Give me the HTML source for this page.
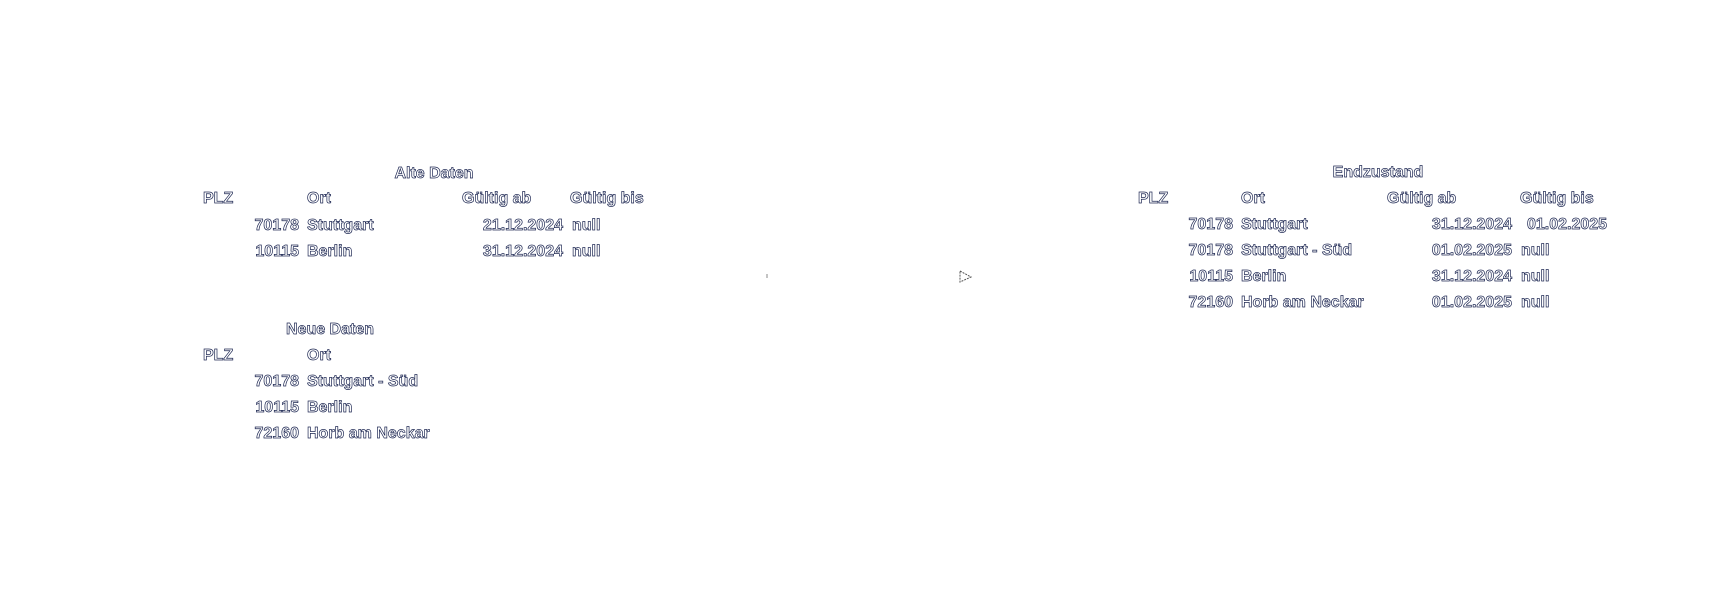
<!DOCTYPE html>
<html><head><meta charset="utf-8"><style>
html,body{margin:0;padding:0;background:#fff;width:1717px;height:608px;overflow:hidden;position:relative}
.t{position:absolute;font-family:"Liberation Sans",sans-serif;font-size:16px;font-weight:bold;line-height:16px;color:#fff;-webkit-text-stroke:0.7px #1a2450;white-space:nowrap}
.r{text-align:right}
.c{text-align:center}
</style></head><body>
<div class="t c" style="left:334px;width:200px;top:166px">Alte Daten</div>
<div class="t" style="left:203px;top:191px">PLZ</div>
<div class="t" style="left:307px;top:191px">Ort</div>
<div class="t" style="left:462px;top:191px">Gültig ab</div>
<div class="t" style="left:570px;top:191px">Gültig bis</div>
<div class="t r" style="left:199px;width:100px;top:218px">70178</div>
<div class="t" style="left:307px;top:218px">Stuttgart</div>
<div class="t r" style="left:443px;width:120px;top:218px">21.12.2024</div>
<div class="t" style="left:572px;top:218px">null</div>
<div class="t r" style="left:199px;width:100px;top:244px">10115</div>
<div class="t" style="left:307px;top:244px">Berlin</div>
<div class="t r" style="left:443px;width:120px;top:244px">31.12.2024</div>
<div class="t" style="left:572px;top:244px">null</div>

<div class="t c" style="left:250px;width:160px;top:322px">Neue Daten</div>
<div class="t" style="left:203px;top:348px">PLZ</div>
<div class="t" style="left:307px;top:348px">Ort</div>
<div class="t r" style="left:199px;width:100px;top:374px">70178</div>
<div class="t" style="left:307px;top:374px">Stuttgart - Süd</div>
<div class="t r" style="left:199px;width:100px;top:400px">10115</div>
<div class="t" style="left:307px;top:400px">Berlin</div>
<div class="t r" style="left:199px;width:100px;top:426px">72160</div>
<div class="t" style="left:307px;top:426px">Horb am Neckar</div>

<svg style="position:absolute;left:0;top:0" width="1717" height="608">
<line x1="767" y1="274" x2="767" y2="278" stroke="#888" stroke-width="1"/>
<path d="M960,271 L971,277 L960,282 Z" fill="none" stroke="#555" stroke-width="1" stroke-dasharray="2,1"/>
</svg>

<div class="t c" style="left:1298px;width:160px;top:165px">Endzustand</div>
<div class="t" style="left:1138px;top:191px">PLZ</div>
<div class="t" style="left:1241px;top:191px">Ort</div>
<div class="t" style="left:1387px;top:191px">Gültig ab</div>
<div class="t" style="left:1520px;top:191px">Gültig bis</div>
<div class="t r" style="left:1133px;width:100px;top:217px">70178</div>
<div class="t" style="left:1241px;top:217px">Stuttgart</div>
<div class="t r" style="left:1392px;width:120px;top:217px">31.12.2024</div>
<div class="t" style="left:1527px;top:217px">01.02.2025</div>
<div class="t r" style="left:1133px;width:100px;top:243px">70178</div>
<div class="t" style="left:1241px;top:243px">Stuttgart - Süd</div>
<div class="t r" style="left:1392px;width:120px;top:243px">01.02.2025</div>
<div class="t" style="left:1521px;top:243px">null</div>
<div class="t r" style="left:1133px;width:100px;top:269px">10115</div>
<div class="t" style="left:1241px;top:269px">Berlin</div>
<div class="t r" style="left:1392px;width:120px;top:269px">31.12.2024</div>
<div class="t" style="left:1521px;top:269px">null</div>
<div class="t r" style="left:1133px;width:100px;top:295px">72160</div>
<div class="t" style="left:1241px;top:295px">Horb am Neckar</div>
<div class="t r" style="left:1392px;width:120px;top:295px">01.02.2025</div>
<div class="t" style="left:1521px;top:295px">null</div>
</body></html>
